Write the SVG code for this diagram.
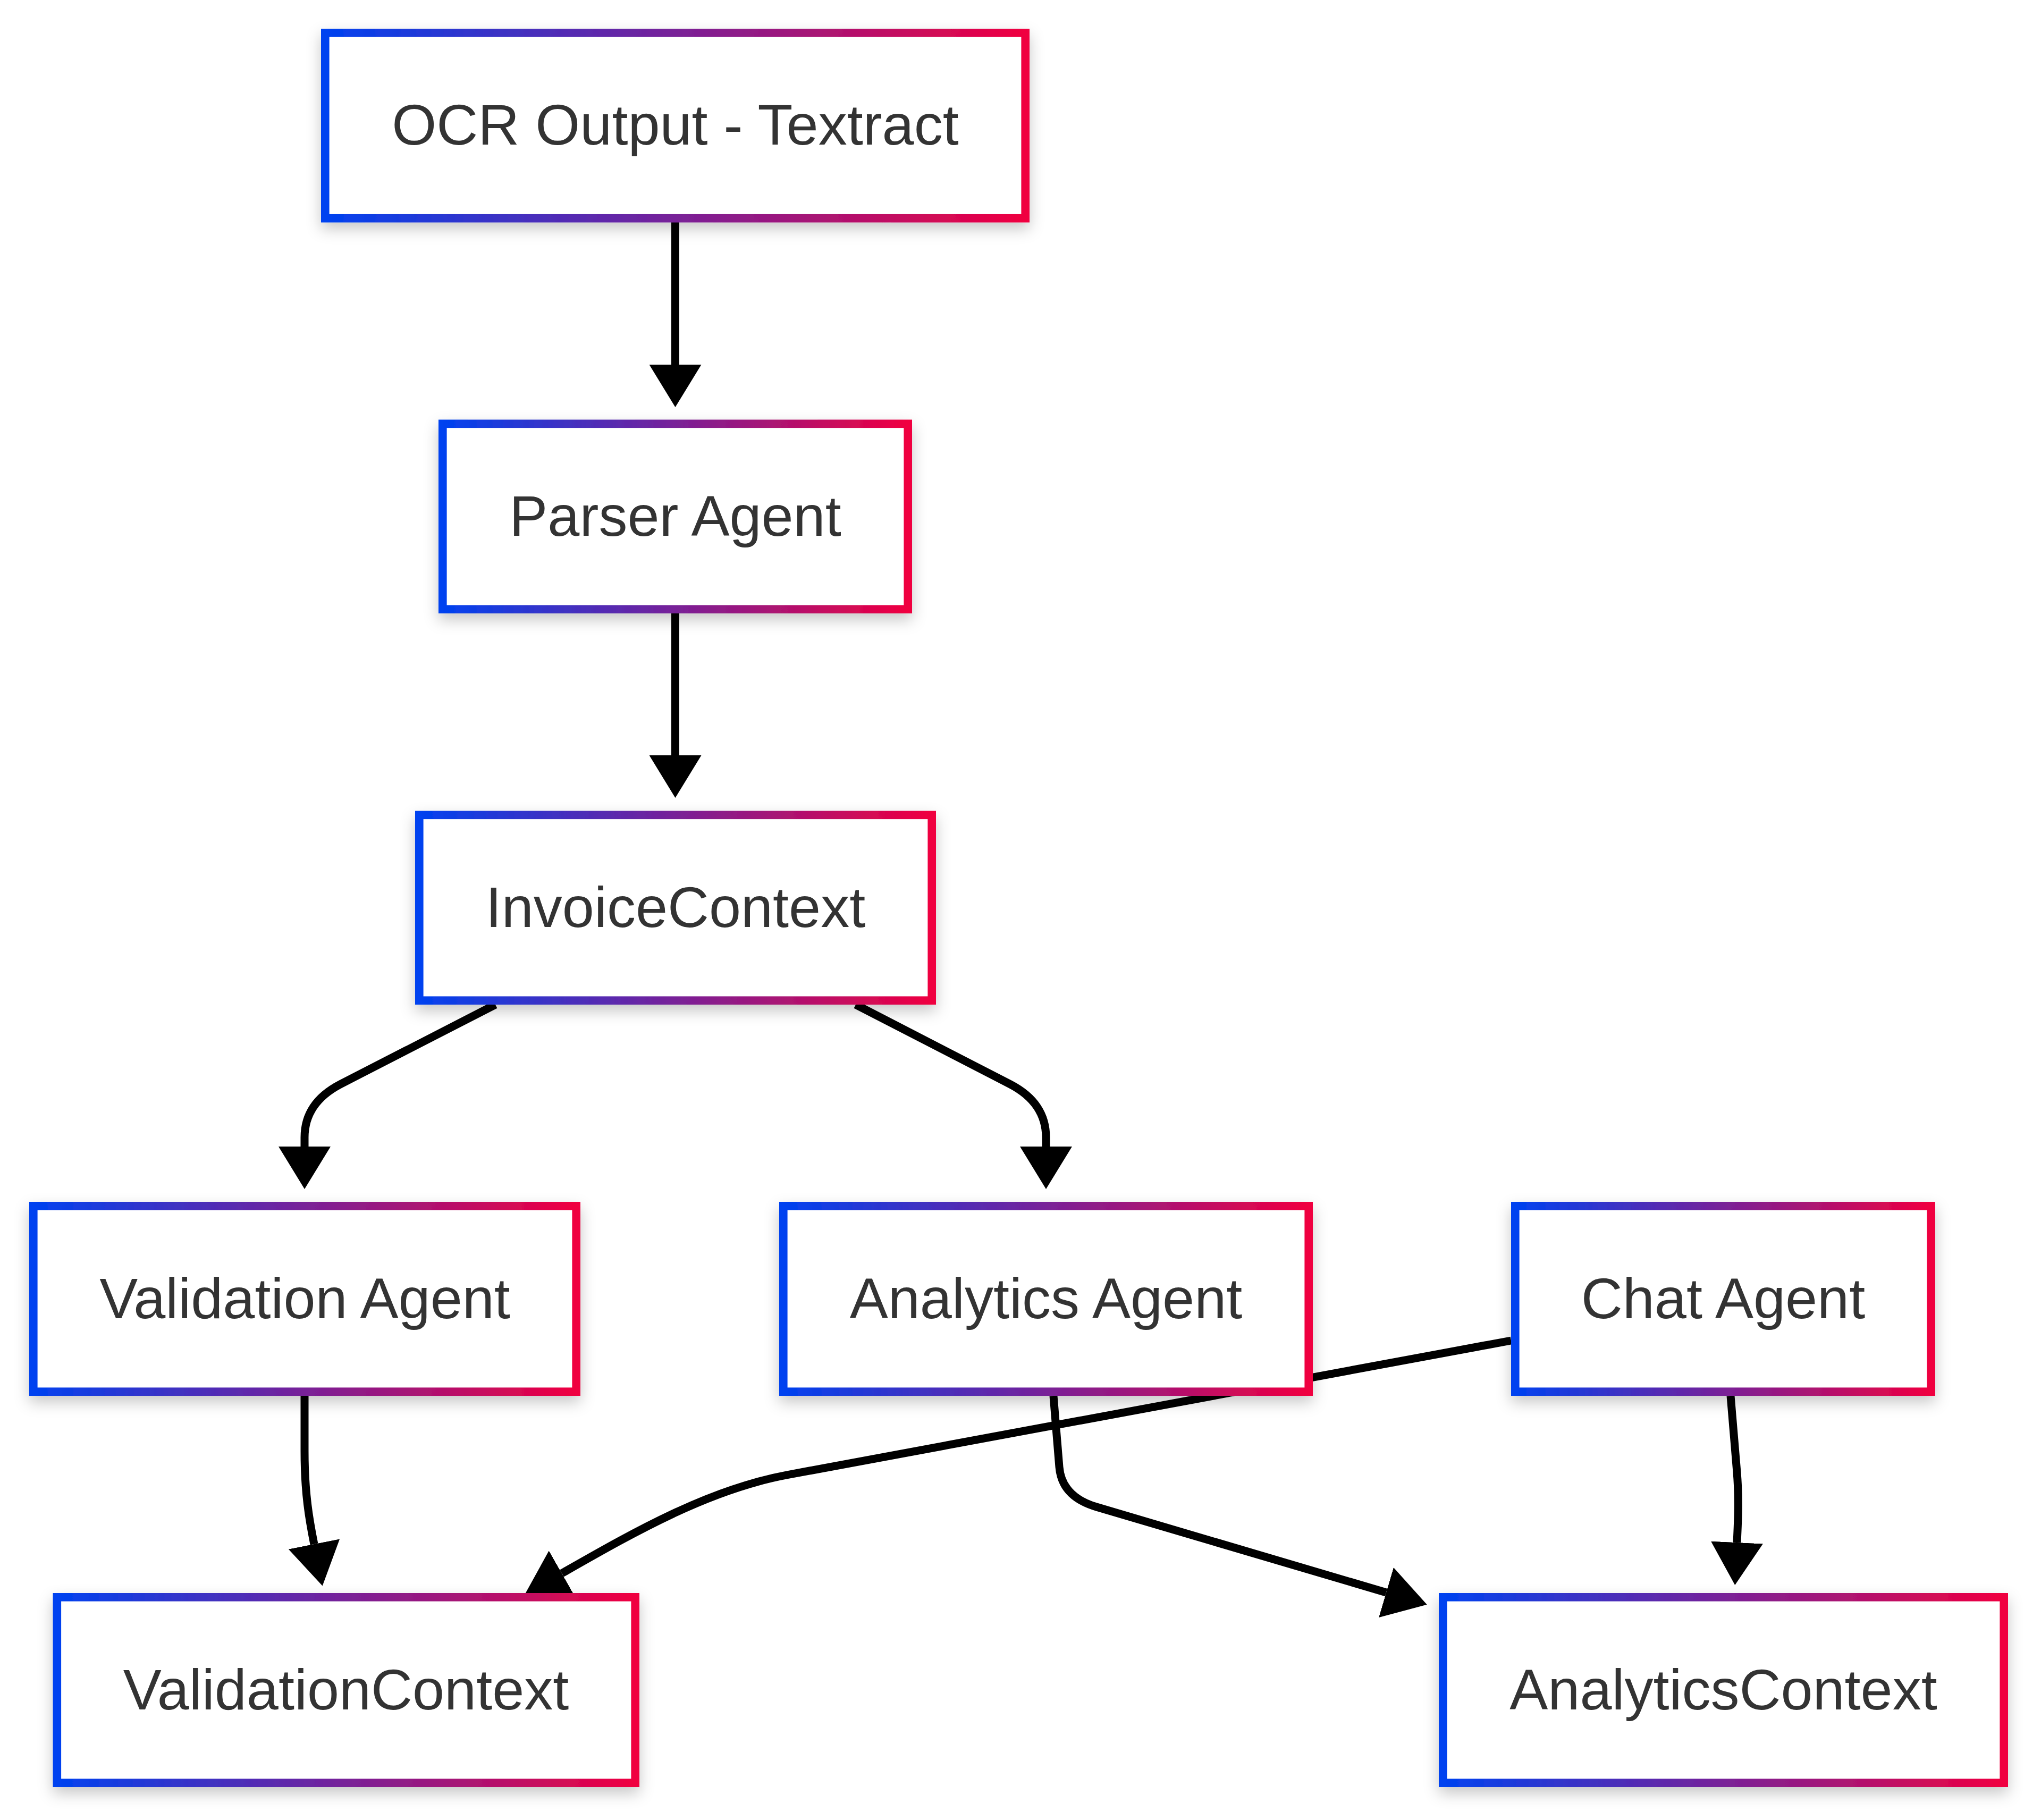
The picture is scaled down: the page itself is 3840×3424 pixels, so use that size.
<svg xmlns="http://www.w3.org/2000/svg" width="3840" height="3424" viewBox="0 0 3840 3424">
<defs>
<linearGradient id="g" x1="0" y1="0" x2="1" y2="0">
<stop offset="0" stop-color="#0042f0"/>
<stop offset="1" stop-color="#f00040"/>
</linearGradient>
<filter id="sh" x="-10%" y="-20%" width="120%" height="150%">
<feDropShadow dx="0" dy="12" stdDeviation="14" flood-color="#000" flood-opacity="0.22"/>
</filter>
<marker id="ah" markerUnits="userSpaceOnUse" viewBox="0 0 80 98" markerWidth="80" markerHeight="98" refX="0" refY="49" orient="auto">
<path d="M0,0 L80,49 L0,98 z" fill="#000"/>
</marker>
<style>
.box{fill:#fff;stroke:url(#g);stroke-width:15.6;filter:url(#sh)}
.lbl{font-family:"Liberation Sans",Arial,Helvetica,sans-serif;font-size:108px;fill:#333;text-anchor:middle}
.e{fill:none;stroke:#000;stroke-width:15;marker-end:url(#ah)}
</style>
</defs>
<rect x="0" y="0" width="3840" height="3424" fill="#fff"/>
<g id="edges">
<path class="e" d="M1270.5 418 L1270.5 686"/>
<path class="e" d="M1270.5 1154 L1270.5 1421"/>
<path class="e" d="M932 1890 L640 2040 Q573 2075 573 2140 L573 2157"/>
<path class="e" d="M1610 1890 L1901 2040 Q1968 2075 1968 2140 L1968 2157"/>
<path class="e" d="M573 2626 L573 2730 C573 2810 582 2860 591 2905"/>
<path class="e" d="M1982 2626 L1993 2760 Q1997.6 2815.7 2063 2835 L2608 2996"/>
<path class="e" d="M2843 2522 L1480 2775 C1330 2803 1187 2886 1057 2960"/>
<path class="e" d="M3256 2626 L3268 2770 C3272 2820 3270 2860 3268 2902"/>
</g>
<g id="ocr">
<rect class="box" x="611.8" y="61.8" width="1317.4" height="348.9"/>
<text class="lbl" x="1270.5" y="272">OCR Output - Textract</text>
</g>
<g id="parser">
<rect class="box" x="832.8" y="797.3" width="875.4" height="348.9"/>
<text class="lbl" x="1270.5" y="1008">Parser Agent</text>
</g>
<g id="invoice">
<rect class="box" x="788.8" y="1533.3" width="964.4" height="348.9"/>
<text class="lbl" x="1271" y="1744">InvoiceContext</text>
</g>
<g id="validation">
<rect class="box" x="62.8" y="2268.8" width="1021.4" height="349.4"/>
<text class="lbl" x="573.5" y="2480">Validation Agent</text>
</g>
<g id="analytics">
<rect class="box" x="1473.8" y="2268.8" width="988.4" height="349.4"/>
<text class="lbl" x="1968" y="2480">Analytics Agent</text>
</g>
<g id="chat">
<rect class="box" x="2850.8" y="2268.8" width="782.4" height="349.4"/>
<text class="lbl" x="3242" y="2480">Chat Agent</text>
</g>
<g id="validationctx">
<rect class="box" x="107.3" y="3004.8" width="1087.9" height="349.4"/>
<text class="lbl" x="651" y="3216">ValidationContext</text>
</g>
<g id="analyticsctx">
<rect class="box" x="2714.8" y="3004.8" width="1055.4" height="349.4"/>
<text class="lbl" x="3242.5" y="3216">AnalyticsContext</text>
</g>
</svg>
